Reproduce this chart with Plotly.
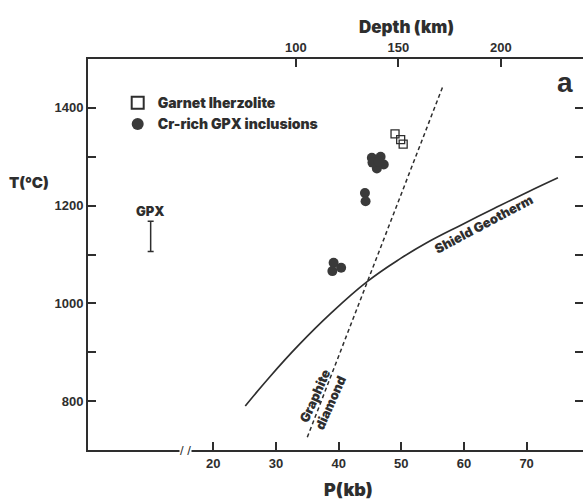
import plotly.graph_objects as go

# ---- data ----
garnet_P = [49.0, 49.9, 50.3]
garnet_T = [1347, 1335, 1326]

gpx_P = [45.3, 46.7, 47.2, 46.1, 45.4, 46.4, 44.2, 44.3, 39.2, 39.0, 40.4]
gpx_T = [1298, 1300, 1284, 1276, 1288, 1290, 1226, 1209, 1083, 1066, 1073]

geotherm_P = [25.1, 29.1, 33.5, 38.7, 44.6, 49.9, 54.2, 59.5, 64.8, 70.2, 75.0]
geotherm_T = [790, 851, 913, 979, 1045, 1092, 1125, 1160, 1194, 1228, 1257]

graphite_diamond_P = [35.0, 56.6]
graphite_diamond_T = [726, 1443]

gpx_err_P = [10.0]
gpx_err_T = [1137]
gpx_err = [31]

p_ticks = [20, 30, 40, 50, 60, 70]
t_ticks = [800, 1000, 1200, 1400]
t_minor = [900, 1100, 1300]
depth_ticks = [100, 150, 200]

INK = "#2e2e2e"
HEAVY = "Inter, Lato, Roboto, DejaVu Sans, sans-serif"
PLAIN = "Liberation Sans, Arial, Helvetica, sans-serif"

fig = go.Figure()

fig.add_trace(go.Scatter(
    x=geotherm_P, y=geotherm_T, mode="lines",
    line=dict(color=INK, width=1.7, shape="spline", smoothing=1.2),
    showlegend=False, hoverinfo="skip"))
fig.add_trace(go.Scatter(
    x=graphite_diamond_P, y=graphite_diamond_T, mode="lines",
    line=dict(color=INK, width=1.5, dash="4px,3px"), showlegend=False, hoverinfo="skip"))
fig.add_trace(go.Scatter(
    x=garnet_P, y=garnet_T, mode="markers", name="Garnet lherzolite",
    marker=dict(symbol="square-open", size=8, color=INK, line=dict(width=1.3, color=INK))))
fig.add_trace(go.Scatter(
    x=gpx_P, y=gpx_T, mode="markers", name="Cr-rich GPX inclusions",
    marker=dict(symbol="circle", size=10, color="#3a3a3a")))
fig.add_trace(go.Scatter(
    x=gpx_err_P, y=gpx_err_T, mode="markers", marker=dict(size=0.1, color=INK),
    error_y=dict(type="data", array=gpx_err, color=INK, thickness=1.5, width=3),
    showlegend=False, hoverinfo="skip"))
fig.add_trace(go.Scatter(x=[None], y=[None], xaxis="x2", yaxis="y2",
                         showlegend=False, hoverinfo="skip"))

axis_common = dict(showgrid=False, zeroline=False, ticks="inside", ticklen=8, tickwidth=1.5,
                   tickcolor=INK, linecolor=INK, linewidth=2,
                   tickfont=dict(family=PLAIN, size=13, color=INK, weight="bold"))

fig.update_layout(
    width=583, height=499,
    margin=dict(l=88, r=0, t=59, b=49),
    paper_bgcolor="white", plot_bgcolor="white",
    xaxis=dict(range=[0, 79], tickvals=p_ticks, showline=True, **axis_common),
    yaxis=dict(range=[700, 1500], tickvals=t_ticks, showline=True,
               minor=dict(tickvals=t_minor, ticks="inside", ticklen=8, tickwidth=1.5, tickcolor=INK),
               **axis_common),
    xaxis2=dict(overlaying="x", side="top", range=[-1.4, 240.1], tickvals=depth_ticks,
                showline=True, **axis_common),
    yaxis2=dict(overlaying="y", side="right", range=[700, 1500], tickvals=t_ticks,
                showline=False, showticklabels=False,
                minor=dict(tickvals=t_minor, ticks="inside", ticklen=8, tickwidth=1.5, tickcolor=INK),
                **axis_common),
    legend=dict(x=0.06, y=0.928, xanchor="left", yanchor="top", bgcolor="rgba(0,0,0,0)",
                font=dict(family=HEAVY, size=14, color=INK, weight=900),
                tracegroupgap=0, itemsizing="constant"),
    font=dict(family=PLAIN, color=INK),
)


def heavy(s):
    return dict(family=HEAVY, size=s, color=INK, weight=900)


def note(text, x, y, font, xref="paper", yref="paper", angle=0, **kw):
    fig.add_annotation(text=text, x=x, y=y, xref=xref, yref=yref, showarrow=False,
                       xanchor="center", yanchor="middle", textangle=angle, font=font, **kw)


note("Depth (km)", 0.644, 1.082, heavy(17))
note("P(kb)", 0.527, -0.102, heavy(18))
note("T(°C)", -0.119, 0.685, heavy(15))
note("a", 0.964, 0.939, dict(family=PLAIN, size=28, color=INK, weight="bold"))
note("GPX", 10, 1188, heavy(13), xref="x", yref="y")
note("Shield Geotherm", 63.1, 1163, heavy(13), xref="x", yref="y", angle=-28)
note("Graphite<br>diamond", 37.4, 803.5, heavy(13), xref="x", yref="y", angle=-66)
note("/ /", 15.5, 0, dict(family=PLAIN, size=13, color=INK), xref="x", yref="paper",
     bgcolor="white", borderpad=0)

fig.write_html("out.html")
